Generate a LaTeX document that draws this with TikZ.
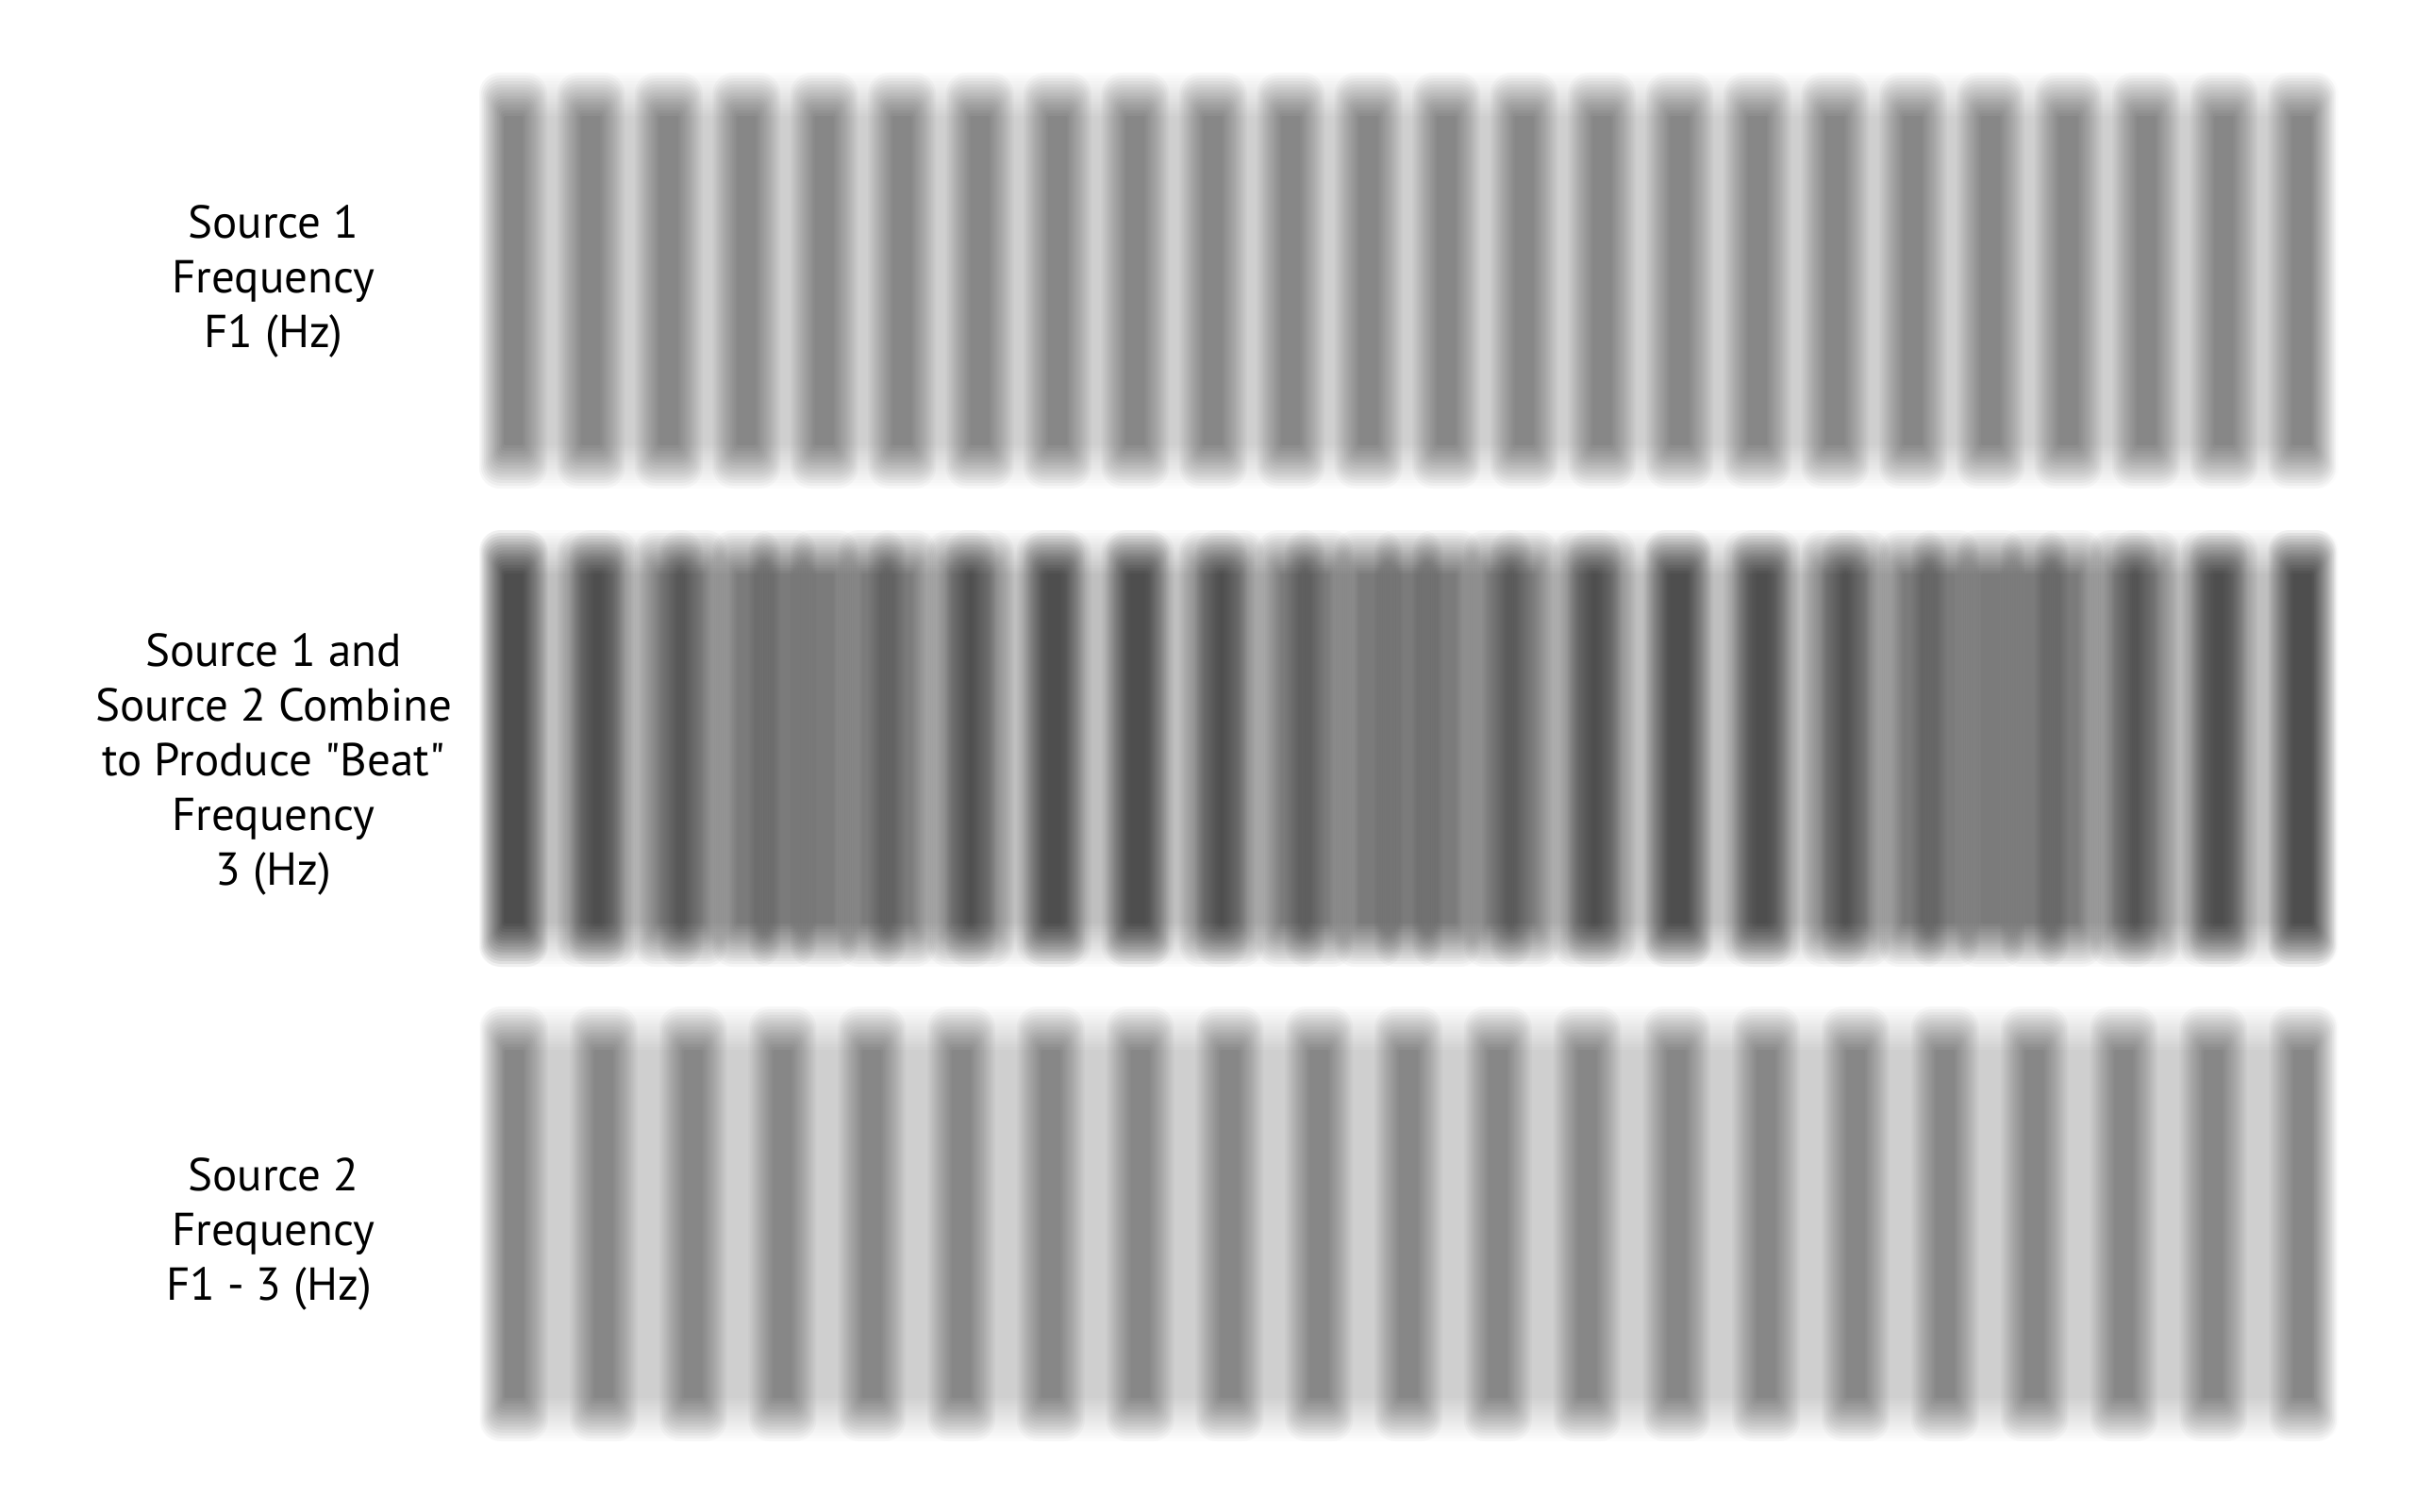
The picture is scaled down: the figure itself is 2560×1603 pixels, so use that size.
\documentclass[tikz,border=0pt]{standalone}
\usepackage{fontspec}
\newfontfamily\lblfont{PT Sans}
% blurred rectangle: x0 y0 x1 y1 opacity rx ry
\newcommand\blurrect[7]{%
  \pgfmathsetmacro\blay{1-(1-#5)^(0.0625)}%
  \foreach \bk in {0,...,15}{%
    \pgfmathsetmacro\bt{(\bk-7.5)/7.5}%
    \pgfmathsetmacro\brc{2+10*(\bt+1)}%
    \fill[black,fill opacity=\blay,rounded corners=\brc pt] ({#1-(\bt)*#6},{#2-(\bt)*#7}) rectangle ({#3+(\bt)*#6},{#4+(\bt)*#7});
  }}
\tikzset{lbl/.style={font=\lblfont\fontsize{49}{58}\selectfont, inner sep=0pt, anchor=base, text=black}}
\begin{document}
\begin{tikzpicture}[x=1pt,y=-1pt]
\useasboundingbox (0,0) rectangle (2560,1603);
\fill[white] (0,0) rectangle (2560,1603);
% ---- row 1: source 1 (24 bars)
\blurrect{521}{100}{2466}{495}{0.16}{13}{23}
\foreach \i in {0,...,23}{%
  \pgfmathsetmacro\cx{544+82.43*\i}%
  \blurrect{\cx-23}{100}{\cx+23}{495}{0.33}{13}{23}}
% ---- row 2: both sources overlaid
\blurrect{521}{585}{2466}{1002}{0.14}{13}{23}
\blurrect{521}{585}{2466}{1002}{0.14}{13}{23}
\foreach \i in {0,...,23}{%
  \pgfmathsetmacro\cx{544+82.43*\i}%
  \blurrect{\cx-23}{585}{\cx+23}{1002}{0.30}{13}{23}}
\foreach \j in {0,...,20}{%
  \pgfmathsetmacro\cx{545+94.8*\j}%
  \blurrect{\cx-23}{585}{\cx+23}{1002}{0.30}{13}{23}}
% ---- row 3: source 2 (21 bars)
\blurrect{521}{1090}{2466}{1505}{0.16}{13}{23}
\foreach \j in {0,...,20}{%
  \pgfmathsetmacro\cx{545+94.8*\j}%
  \blurrect{\cx-23}{1090}{\cx+23}{1505}{0.33}{13}{23}}
% ---- labels
\node[lbl] (s1a) at (290,252) {Source 1};
\node[lbl] (s1b) at (290,310) {Frequency};
\node[lbl] (s1c) at (290,368) {F1 (Hz)};
\node[lbl] (cba) at (290,706) {Source 1 and};
\node[lbl] (cbb) at (290,764) {Source 2 Combine};
\node[lbl] (cbc) at (290,822) {to Produce "Beat"};
\node[lbl] (cbd) at (290,880) {Frequency};
\node[lbl] (cbe) at (290,938) {3 (Hz)};
\node[lbl] (s2a) at (290,1262) {Source 2};
\node[lbl] (s2b) at (290,1320) {Frequency};
\node[lbl] (s2c) at (285,1378) {F1 - 3 (Hz)};
\end{tikzpicture}
\end{document}
